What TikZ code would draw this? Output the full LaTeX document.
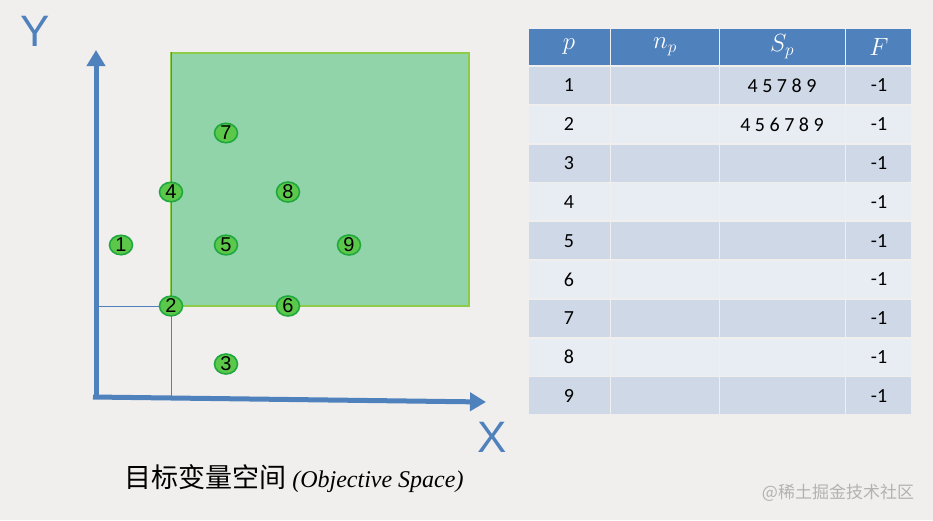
\documentclass[tikz,border=0pt]{standalone}
\usepackage{fontspec}
\setmainfont{Carlito}
\newfontfamily\cjk{Noto Sans CJK SC}
\newfontfamily\arialf{Liberation Sans}
\usetikzlibrary{arrows.meta,shapes.geometric}
\definecolor{bg}{HTML}{F1EFEE}
\definecolor{axblue}{HTML}{4F81BD}
\definecolor{hdr}{HTML}{4F81BD}
\definecolor{rowa}{HTML}{CFD8E6}
\definecolor{rowb}{HTML}{E8ECF3}
\definecolor{regfill}{HTML}{92D4AA}
\definecolor{regedge}{HTML}{8DCB4A}
\definecolor{ptfill}{HTML}{5CC84A}
\definecolor{ptedge}{HTML}{1FA83F}
\tikzset{
  pt/.style={ellipse, draw=ptedge, line width=1.6pt, fill=ptfill, minimum width=23pt, minimum height=19pt, inner sep=0pt, font=\arialf\fontsize{20}{20}\selectfont},
  ttext/.style={font=\fontsize{20}{20}\selectfont},
  htext/.style={text=white, font=\fontsize{23}{23}\selectfont},
}
\begin{document}
\begin{tikzpicture}[x=1pt,y=-1pt]
\fill[bg] (0,0) rectangle (933,520);
\useasboundingbox (0,0) rectangle (933,520);
% region
\draw[regedge, line width=2pt, fill=regfill] (171,53) rectangle (469,306);
% guides
\draw[axblue, line width=0.8pt] (171,52) -- (171,397);
\draw[axblue, line width=0.8pt] (96,306) -- (171,306);
% axes
\coordinate (Ytip) at (96,50);
\coordinate (Xtip) at (486,402);
\coordinate (Xs) at (93,397);
\coordinate (Ys) at (96,399);
\draw[axblue, line width=5pt, -{Triangle[length=16pt,width=18pt]}] (Ys) -- (Ytip);
\draw[axblue, line width=5pt, -{Triangle[length=16pt,width=18pt]}] (Xs) -- (Xtip);
\node[text=axblue, font=\arialf\fontsize{44}{44}\selectfont] (ylab) at (35,31) {Y};
\node[text=axblue, font=\arialf\fontsize{44}{44}\selectfont] (xlab) at (492,437) {X};
% points
\node[pt] (p1) at (121,245) {1};
\node[pt] (p2) at (171,306) {2};
\node[pt] (p3) at (226,364) {3};
\node[pt] (p4) at (171,192) {4};
\node[pt] (p5) at (226,245) {5};
\node[pt] (p6) at (288,306) {6};
\node[pt] (p7) at (226,133) {7};
\node[pt] (p8) at (288,192) {8};
\node[pt] (p9) at (349,245) {9};
% caption
\node[anchor=west, font=\fontsize{27}{27}\selectfont, inner sep=0pt] (cap) at (124,479) {{\cjk 目标变量空间} {\fontspec{Liberation Serif}\itshape\fontsize{24}{24}\selectfont(Objective Space)}};
% table
\foreach \xa/\xb in {529/610,611/719,720/845,846/911}{
  \fill[hdr] (\xa,29) rectangle (\xb,65);
}
\foreach \r in {1,...,9}{
  \pgfmathsetmacro{\ya}{67+(\r-1)*38.8}
  \pgfmathsetmacro{\yb}{\ya+37}
  \pgfmathsetmacro{\ym}{(\ya+\yb)/2}
  \ifodd\r \def\rc{rowa}\else\def\rc{rowb}\fi
  \foreach \xa/\xb in {529/610,611/719,720/845,846/911}{
    \fill[\rc] (\xa,\ya) rectangle (\xb,\yb);
  }
  \node[ttext] (r\r p) at (569,\ym) {\r};
  \node[ttext] (r\r f) at (879,\ym) {-1};
}
\node[htext] (hp) at (569,47) {$p$};
\node[htext] (hn) at (665,47) {$n_p$};
\node[htext] (hs) at (782,47) {$S_p$};
\node[htext] (hf) at (879,47) {$F$};
\node[ttext] (s1) at (782,86) {4 5 7 8 9};
\node[ttext] (s2) at (782,125) {4 5 6 7 8 9};
% watermark
\node[text=gray!60, font=\cjk\fontsize{17}{17}\selectfont] (wm) at (838,493) {@稀土掘金技术社区};
\end{tikzpicture}
\end{document}
